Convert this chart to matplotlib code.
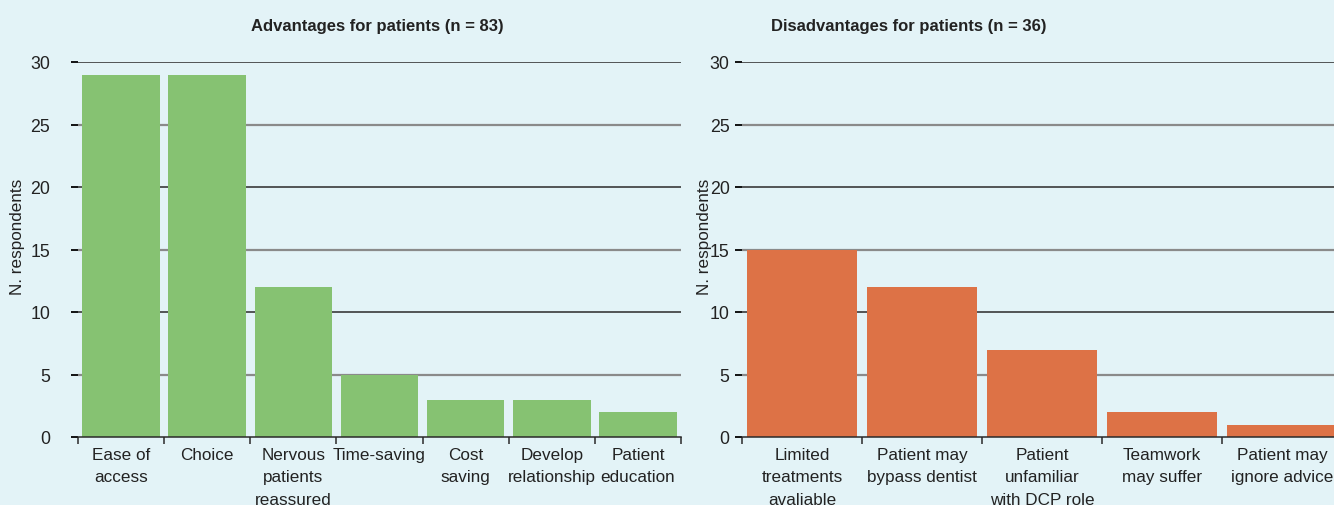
import matplotlib
matplotlib.use("Agg")
import matplotlib.pyplot as plt
import numpy as np

plt.rcParams['font.family'] = ['Liberation Sans', 'DejaVu Sans']

adv_labels = ["Ease of\naccess", "Choice", "Nervous\npatients\nreassured", "Time-saving",
              "Cost\nsaving", "Develop\nrelationship", "Patient\neducation"]
adv_values = [29, 29, 12, 5, 3, 3, 2]

dis_labels = ["Limited\ntreatments\navaliable", "Patient may\nbypass dentist",
              "Patient\nunfamiliar\nwith DCP role", "Teamwork\nmay suffer", "Patient may\nignore advice"]
dis_values = [15, 12, 7, 2, 1]

titles = ["Advantages for patients (n = 83)", "Disadvantages for patients (n = 36)"]
y_ticks = [0, 5, 10, 15, 20, 25, 30]

BG = "#e3f3f7"
GREEN = "#86c272"
ORANGE = "#dd7246"
DARK = "#2a2a2a"
GRAY = "#8a8a8a"
TXT = "#222222"
FS = 12.3

W, H = 1334, 506
fig = plt.figure(figsize=(W / 100, H / 100), dpi=100, facecolor=BG)

def px_axes(x0, x1, y_top, y_bot):
    return fig.add_axes([x0 / W, (H - y_bot) / H, (x1 - x0) / W, (y_bot - y_top) / H])

ax1 = px_axes(78, 681, 63, 438)
ax2 = px_axes(742, 1342, 63, 438)

def draw(ax, labels, values, color, bar_w, ypad):
    ax.set_facecolor(BG)
    n = len(values)
    x = np.arange(n)
    for v in y_ticks[1:]:
        major = (v % 10 == 0)
        ax.axhline(v, color=DARK if major else GRAY, lw=1.1 if major else 1.6, zorder=1)
    ax.bar(x, values, width=bar_w, color=color, zorder=2, linewidth=0)
    ax.set_xlim(-0.5, n - 0.5)
    ax.set_ylim(0, 30)
    for s in ["top", "right", "left"]:
        ax.spines[s].set_visible(False)
    ax.spines["bottom"].set_color(DARK)
    ax.spines["bottom"].set_linewidth(1.1)
    ax.spines["bottom"].set_zorder(3)
    ax.set_xticks(x)
    ax.set_xticklabels(labels, fontsize=FS, color=TXT, linespacing=1.62, va="top")
    ax.tick_params(axis="x", which="major", length=0, pad=7)
    ax.set_xticks(np.arange(-0.5, n, 1.0), minor=True)
    ax.tick_params(axis="x", which="minor", length=5, color=DARK, width=1.1)
    ax.set_yticks(y_ticks)
    ax.set_yticklabels([str(v) for v in y_ticks], fontsize=FS + 0.5, color=TXT)
    ax.tick_params(axis="y", length=5, pad=ypad, width=1.3)
    for t, v in zip(ax.yaxis.get_major_ticks(), y_ticks):
        t.tick1line.set_color(DARK if v % 10 == 0 else GRAY)
    ax.set_ylabel("N. respondents", fontsize=FS, color=TXT)

draw(ax1, adv_labels, adv_values, GREEN, 0.9, 15)
draw(ax2, dis_labels, dis_values, ORANGE, 0.91, 4)
ax1.yaxis.set_label_coords(-53 / 603, 0.535)
ax2.yaxis.set_label_coords(-30 / 600, 0.535)

fig.text(377 / W, 1 - 26 / H, titles[0], ha="center", va="center", fontsize=12, fontweight="bold", color=TXT)
fig.text(909 / W, 1 - 26 / H, titles[1], ha="center", va="center", fontsize=12, fontweight="bold", color=TXT)

fig.savefig("out.png", dpi=100, facecolor=BG)
